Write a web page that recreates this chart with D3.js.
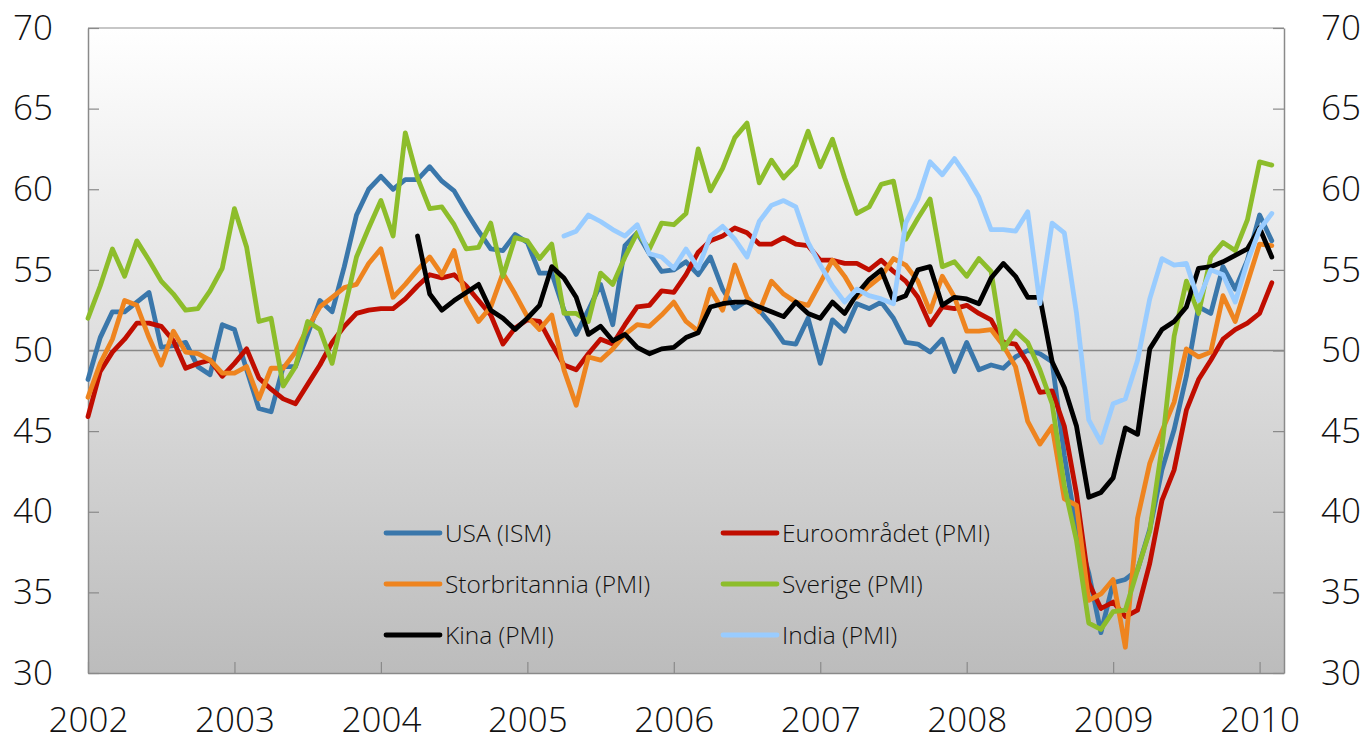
<!DOCTYPE html>
<html>
<head>
<meta charset="utf-8">
<script src="https://cdn.jsdelivr.net/npm/d3@7"></script>
<style>
  body { margin: 0; background: #fff; }
  svg text { font-family: "Open Sans", "DejaVu Sans", sans-serif; font-weight: 300; fill: #111; }
</style>
</head>
<body>
<div id="chart"></div>
<script>
// tick labels (one per January)
const years = ["2002", "2003", "2004", "2005", "2006", "2007", "2008", "2009", "2010"];

// monthly index values, Jan 2002 - Feb 2010
const usa = [
  48.2, 50.8, 52.4, 52.4, 53.0, 53.6, 50.2, 50.3, 50.5, 49.0, 48.5, 51.6,
  51.3, 48.8, 46.4, 46.2, 49.0, 49.0, 51.0, 53.1, 52.4, 55.2, 58.4, 60.0,
  60.8, 60.0, 60.6, 60.6, 61.4, 60.5, 59.9, 58.6, 57.4, 56.3, 56.2, 57.2,
  56.7, 54.8, 54.8, 52.5, 51.0, 52.5, 54.1, 51.6, 56.5, 57.3, 56.0, 54.9,
  55.0, 55.5, 54.7, 55.8, 53.8, 52.6, 53.1, 52.5, 51.6, 50.5, 50.4, 52.0,
  49.2, 51.9, 51.2, 52.9, 52.6, 53.0, 52.0, 50.5, 50.4, 49.9, 50.7, 48.7,
  50.5, 48.8, 49.1, 48.9, 49.6, 50.0, 49.8, 49.3, 43.5, 38.9, 36.2, 32.5,
  35.6, 35.8, 36.4, 38.9, 42.6, 45.1, 48.4, 52.7, 52.3, 55.2, 53.8, 55.6,
  58.4, 56.8
];
const euro = [
  45.9, 48.7, 49.9, 50.7, 51.7, 51.7, 51.5, 50.6, 48.9, 49.2, 49.4, 48.4,
  49.2, 50.1, 48.3, 47.6, 47.0, 46.7, 47.9, 49.1, 50.5, 51.5, 52.3, 52.5,
  52.6, 52.6, 53.2, 54.0, 54.7, 54.5, 54.7, 54.0, 53.1, 52.2, 50.4, 51.4,
  51.9, 51.8, 50.4, 49.1, 48.8, 49.8, 50.7, 50.4, 51.6, 52.7, 52.8, 53.7,
  53.6, 54.7, 56.1, 56.8, 57.1, 57.6, 57.3, 56.6, 56.6, 57.0, 56.6, 56.5,
  55.6, 55.6, 55.4, 55.4, 55.0, 55.6, 54.9, 54.3, 53.3, 51.6, 52.7, 52.6,
  52.8, 52.3, 51.9, 50.5, 50.4, 49.2, 47.4, 47.5, 45.3, 41.1, 35.6, 34.0,
  34.4, 33.5, 33.9, 36.8, 40.7, 42.6, 46.3, 48.2, 49.4, 50.7, 51.3, 51.7,
  52.3, 54.2
];
const uk = [
  47.1, 49.2, 50.7, 53.1, 52.8, 50.8, 49.1, 51.2, 49.9, 49.8, 49.4, 48.6,
  48.6, 49.0, 47.0, 48.9, 48.9, 49.9, 51.4, 52.7, 53.3, 53.9, 54.1, 55.4,
  56.3, 53.3, 54.1, 55.0, 55.8, 54.7, 56.2, 53.1, 51.8, 52.7, 54.8, 53.5,
  52.1, 51.3, 52.2, 48.8, 46.6, 49.6, 49.4, 50.1, 51.0, 51.6, 51.5, 52.2,
  53.0, 51.8, 51.2, 53.8, 52.5, 55.3, 53.3, 52.4, 54.3, 53.5, 53.0, 52.8,
  54.2, 55.6, 54.6, 53.3, 54.0, 54.6, 55.7, 55.3, 54.3, 52.4, 54.6, 53.3,
  51.2, 51.2, 51.3, 50.3, 49.0, 45.6, 44.2, 45.3, 40.8, 40.4, 34.5, 34.9,
  35.8, 31.6, 39.6, 43.0, 45.0, 46.8, 50.1, 49.6, 49.9, 53.4, 51.8, 54.2,
  56.6, 56.5
];
const sweden = [
  52.0, 54.0, 56.3, 54.6, 56.8, 55.6, 54.3, 53.5, 52.5, 52.6, 53.7, 55.1,
  58.8, 56.4, 51.8, 52.0, 47.8, 49.0, 51.8, 51.3, 49.2, 52.5, 55.8, 57.6,
  59.3, 57.1, 63.5, 60.7, 58.8, 58.9, 57.8, 56.3, 56.4, 57.9, 54.6, 57.0,
  56.8, 55.7, 56.6, 52.3, 52.3, 51.8, 54.8, 54.1, 55.8, 57.3, 56.3, 57.9,
  57.8, 58.5, 62.5, 59.9, 61.3, 63.2, 64.1, 60.4, 61.8, 60.7, 61.5, 63.6,
  61.4, 63.1, 60.7, 58.5, 58.9, 60.3, 60.5, 56.9, 58.2, 59.4, 55.2, 55.5,
  54.6, 55.7, 54.9, 50.1, 51.2, 50.5, 48.8, 46.7, 41.6, 38.2, 33.1, 32.7,
  33.8, 33.9, 36.4, 38.8, 44.0, 50.9, 54.3, 52.3, 55.8, 56.7, 56.2, 58.1,
  61.7, 61.5
];
// Apr 2004 - Feb 2010
const china = [
  57.1, 53.5, 52.5, 53.1, 53.6, 54.1, 52.5, 52.0, 51.3,
  52.0, 52.8, 55.2, 54.5, 53.3, 51.0, 51.5, 50.6, 51.0, 50.2, 49.8, 50.1,
  50.2, 50.8, 51.1, 52.7, 52.9, 53.0, 53.0, 52.7, 52.4, 52.1, 53.0, 52.3,
  52.0, 53.0, 52.3, 53.5, 54.4, 55.0, 53.1, 53.4, 55.0, 55.2, 52.8, 53.3,
  53.2, 52.9, 54.5, 55.4, 54.6, 53.3, 53.3, 49.3, 47.7, 45.3, 40.9, 41.2,
  42.1, 45.2, 44.8, 50.1, 51.3, 51.8, 52.7, 55.1, 55.2, 55.5, 55.9, 56.3,
  57.6, 55.8
];
// Apr 2005 - Feb 2010
const india = [
  57.1, 57.4, 58.4, 58.0, 57.5, 57.1, 57.8, 56.0, 55.8,
  55.1, 56.3, 55.1, 57.1, 57.7, 56.9, 55.8, 58.0, 59.0, 59.3, 58.9, 56.7,
  55.3, 54.0, 53.0, 53.8, 53.4, 53.2, 52.9, 57.9, 59.4, 61.7, 60.9, 61.9,
  60.8, 59.5, 57.5, 57.5, 57.4, 58.6, 52.9, 57.9, 57.3, 52.3, 45.7, 44.3,
  46.7, 47.0, 49.4, 53.2, 55.7, 55.3, 55.4, 53.1, 55.0, 54.7, 53.0, 55.5,
  57.5, 58.5
];

const series = [
  { name: "USA (ISM)", start: "2002-01", values: usa, color: "#3a77ab" },
  { name: "Euroområdet (PMI)", start: "2002-01", values: euro, color: "#c00d00" },
  { name: "Storbritannia (PMI)", start: "2002-01", values: uk, color: "#ee841f" },
  { name: "Sverige (PMI)", start: "2002-01", values: sweden, color: "#8dbd2b" },
  { name: "Kina (PMI)", start: "2004-04", values: china, color: "#000000" },
  { name: "India (PMI)", start: "2005-04", values: india, color: "#99ccff" }
];

const W = 1368, H = 742;
const plot = { left: 88, right: 1284, top: 28, bottom: 673 };
const parseMonth = d3.utcParse("%Y-%m");
const origin = parseMonth("2002-01");

const svg = d3.select("#chart").append("svg")
  .attr("width", W).attr("height", H);

// months since Jan 2002; axis runs to Mar 2010
const x = d3.scaleLinear().domain([0, 98]).range([plot.left, plot.right]);
const y = d3.scaleLinear().domain([30, 70]).range([plot.bottom, plot.top]);

// background gradient
const grad = svg.append("defs").append("linearGradient")
  .attr("id", "bg").attr("x1", 0).attr("y1", 0).attr("x2", 0).attr("y2", 1);
grad.append("stop").attr("offset", "0%").attr("stop-color", "#ffffff");
grad.append("stop").attr("offset", "100%").attr("stop-color", "#bcbcbc");

svg.append("rect")
  .attr("x", plot.left).attr("y", plot.top)
  .attr("width", plot.right - plot.left).attr("height", plot.bottom - plot.top)
  .attr("fill", "url(#bg)");

// top border
svg.append("line")
  .attr("x1", plot.left).attr("x2", plot.right)
  .attr("y1", plot.top).attr("y2", plot.top)
  .attr("stroke", "#b4b4b4").attr("stroke-width", 1.5);

// 50 line
svg.append("line")
  .attr("x1", plot.left).attr("x2", plot.right)
  .attr("y1", y(50)).attr("y2", y(50))
  .attr("stroke", "#888").attr("stroke-width", 1.5);

const yTicks = d3.range(30, 71, 5);

const styleAxis = g => {
  g.select(".domain").attr("stroke", "#8a8a8a").attr("stroke-width", 1.5);
  g.selectAll(".tick line").attr("stroke", "#8a8a8a").attr("stroke-width", 1.2);
  g.selectAll(".tick text").attr("fill", "#111").style("font-size", "35px");
};

svg.append("g")
  .attr("transform", `translate(${plot.left},0)`)
  .call(d3.axisLeft(y).tickValues(yTicks).tickSize(-11).tickPadding(35).tickSizeOuter(0))
  .call(styleAxis);

svg.append("g")
  .attr("transform", `translate(${plot.right},0)`)
  .call(d3.axisRight(y).tickValues(yTicks).tickSize(-11).tickPadding(37).tickSizeOuter(0))
  .call(styleAxis);

svg.append("g")
  .attr("transform", `translate(0,${plot.bottom})`)
  .call(d3.axisBottom(x)
    .tickValues(years.map((d, i) => i * 12))
    .tickFormat((d, i) => years[i])
    .tickSize(-11).tickPadding(34).tickSizeOuter(0))
  .call(styleAxis);

// series lines
const line = d3.line()
  .x(d => x(d.m))
  .y(d => y(d.v));

series.forEach(s => {
  const offset = d3.utcMonth.count(origin, parseMonth(s.start));
  const pts = s.values.map((v, i) => ({ m: offset + i, v }));
  svg.append("path")
    .datum(pts)
    .attr("d", line)
    .attr("fill", "none")
    .attr("stroke", s.color)
    .attr("stroke-width", 4.8)
    .attr("stroke-linejoin", "round")
    .attr("stroke-linecap", "round");
});

// legend, two columns
const legend = svg.append("g");
const colX = [386, 723];
const rowY = [533, 584, 635];
series.forEach((s, i) => {
  const lx = colX[i % 2], ly = rowY[Math.floor(i / 2)];
  legend.append("line")
    .attr("x1", lx).attr("x2", lx + 54)
    .attr("y1", ly).attr("y2", ly)
    .attr("stroke", s.color).attr("stroke-width", 4.8)
    .attr("stroke-linecap", "round");
  legend.append("text")
    .attr("x", lx + 59).attr("y", ly)
    .attr("dy", "0.35em")
    .style("font-size", "24.5px")
    .text(s.name);
});
</script>
</body>
</html>
